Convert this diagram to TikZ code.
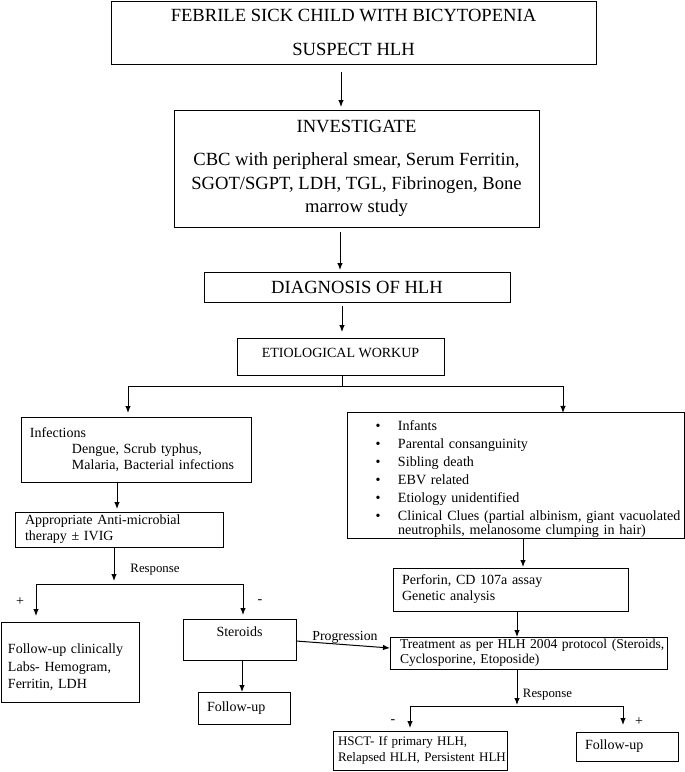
\documentclass[tikz,border=0pt]{standalone}
\usepackage{fontspec}
\setmainfont{Liberation Serif}
\usetikzlibrary{arrows.meta}
\newcommand\fsz[2]{\fontsize{#1}{#2}\selectfont}
\tikzset{
  box/.style={draw, line width=1pt, inner sep=0pt, outer sep=0pt},
  lbox/.style={box, align=left},
  arr/.style={line width=1pt, -{Latex[length=7pt,width=5.5pt]}},
  ln/.style={line width=1pt},
  lab/.style={inner sep=0pt}
}
\begin{document}
\begin{tikzpicture}[x=1pt,y=-1pt]
\useasboundingbox (0,0) rectangle (685,772);

% top chain
\node[box, minimum width=485pt, minimum height=63pt, align=center, font=\fsz{18.6}{34}] (top) at (353.5,32.5)
  {FEBRILE SICK CHILD WITH BICYTOPENIA\\SUSPECT HLH};
\node[box, minimum width=365pt, minimum height=117pt, align=center, font=\fsz{18.6}{23.5}] (inv) at (356.5,168.5)
  {INVESTIGATE\\[9.5pt]CBC with peripheral smear, Serum Ferritin,\\SGOT/SGPT, LDH, TGL, Fibrinogen, Bone\\marrow study};
\node[box, minimum width=306pt, minimum height=30pt, font=\fsz{18.6}{22}] (diag) at (357,287) {DIAGNOSIS OF HLH};
\node[box, minimum width=207pt, minimum height=37pt, text depth=7pt, font=\fsz{14}{16}] (etio) at (340.5,356.5) {ETIOLOGICAL WORKUP};

% left branch
\node[lbox, text width=212pt, inner xsep=9pt, minimum height=65pt, font=\fsz{14}{16}] (inf) at (136,449.5)
  {Infections\\\hspace*{42pt}Dengue, Scrub typhus,\\\hspace*{42pt}Malaria, Bacterial infections};
\node[lbox, text width=188pt, inner xsep=10pt, minimum height=35pt, font=\fsz{14}{16}] (amb) at (119,529.5)
  {Appropriate Anti-microbial\\therapy ± IVIG};
\node[lbox, text width=124pt, inner xsep=7pt, minimum height=80pt, font=\fsz{14}{17.5}] (fu1) at (70,662)
  {\rule{0pt}{20.5pt}Follow-up clinically\\Labs- Hemogram,\\Ferritin, LDH};
\node[box, minimum width=113pt, minimum height=41pt, text depth=15pt, font=\fsz{14}{16}] (ster) at (239.5,639.5) {Steroids};
\node[lbox, text width=74pt, inner xsep=9pt, minimum height=32pt, font=\fsz{14}{16}] (fu2) at (244,708) {Follow-up};

% right branch
\node[lbox, text width=333pt, inner xsep=2pt, minimum height=125pt, font=\fsz{14.1}{18}] (rbox) at (515.5,475.5)
  {\rule{0pt}{18pt}\hspace*{26.5pt}\makebox[22.5pt][l]{•}Infants\\
   \hspace*{26.5pt}\makebox[22.5pt][l]{•}Parental consanguinity\\
   \hspace*{26.5pt}\makebox[22.5pt][l]{•}Sibling death\\
   \hspace*{26.5pt}\makebox[22.5pt][l]{•}EBV related\\
   \hspace*{26.5pt}\makebox[22.5pt][l]{•}Etiology unidentified\\
   \hspace*{26.5pt}\makebox[22.5pt][l]{•}\mbox{Clinical Clues (partial albinism, giant vacuolated}\\[-4pt]
   \hspace*{49pt}\mbox{neutrophils, melanosome clumping in hair)}};
\node[lbox, text width=217pt, inner xsep=9pt, minimum height=43pt, font=\fsz{14}{16}] (perf) at (510.5,589.5)
  {Perforin, CD 107a assay\\Genetic analysis};
\node[lbox, text width=271pt, inner xsep=3pt, minimum height=32pt, font=\fsz{13.6}{15}] (treat) at (528.5,653)
  {\hspace*{7pt}\mbox{Treatment as per HLH 2004 protocol (Steroids,}\\\hspace*{7pt}Cyclosporine, Etoposide)};
\node[lbox, text width=168pt, inner xsep=3pt, minimum height=39pt, font=\fsz{13}{16}] (hsct) at (420,750.5)
  {\hspace*{2pt}HSCT- If primary HLH,\\\hspace*{2pt}\mbox{Relapsed HLH, Persistent HLH}};
\node[lbox, text width=84pt, inner xsep=9pt, minimum height=29pt, font=\fsz{14}{16}] (fu3) at (627,746.5) {Follow-up};

% labels
\node[lab, font=\fsz{12.8}{14}] (resp1) at (155,570) {Response};
\node[lab, font=\fsz{14}{16}] (plus1) at (20,602) {+};
\node[lab, font=\fsz{14}{16}] (minus1) at (260,602) {-};
\node[lab, font=\fsz{13.8}{16}] (prog) at (345,637) {Progression};
\node[lab, font=\fsz{12.8}{14}] (resp2) at (547.5,695) {Response};
\node[lab, font=\fsz{14}{16}] (minus2) at (393,722) {-};
\node[lab, font=\fsz{14}{16}] (plus2) at (639,722) {+};

% junction coordinates
\coordinate (j1) at (342,386);
\coordinate (jL) at (128,386);
\coordinate (jR) at (563,386);
\coordinate (r1) at (114,584);
\coordinate (r1L) at (36,584);
\coordinate (r1R) at (243,584);
\coordinate (r2) at (517,706);
\coordinate (r2L) at (410,706);
\coordinate (r2R) at (623,706);

% connectors
\draw[arr, shorten <=8pt, shorten >=3pt] (top.south -| 341,0) -- (inv.north -| 341,0);
\draw[arr, shorten <=5pt, shorten >=2pt] (inv.south -| 340,0) -- (diag.north -| 340,0);
\draw[arr, shorten <=4pt, shorten >=6pt] (diag.south -| 342,0) -- (etio.north -| 342,0);
\draw[ln] (etio.south -| j1) -- (j1);
\draw[ln] (jL) -- (jR);
\draw[arr, shorten >=4pt] (jL) -- (jL |- inf.north);
\draw[arr] (jR) -- (jR |- rbox.north);

\draw[arr, shorten >=3pt] (inf.south -| 117,0) -- (amb.north -| 117,0);
\draw[arr, shorten >=3pt] (amb.south -| r1) -- (r1);
\draw[ln] (r1L) -- (r1R);
\draw[arr, shorten >=6pt] (r1L) -- (r1L |- fu1.north);
\draw[arr, shorten >=4pt] (r1R) -- (r1R |- ster.north);
\draw[arr] (ster.south -| 242,0) -- (fu2.north -| 242,0);
\draw[arr] (ster.east |- 0,641) -- (treat.west |- 0,648);

\draw[arr, shorten >=1pt] (rbox.south -| 523,0) -- (perf.north -| 523,0);
\draw[arr] (perf.south -| 517,0) -- (treat.north -| 517,0);
\draw[arr, shorten >=1pt] (treat.south -| r2) -- (r2);
\draw[ln] (r2L) -- (r2R);
\draw[arr, shorten >=3pt] (r2L) -- (r2L |- hsct.north);
\draw[arr, shorten >=7pt] (r2R) -- (r2R |- fu3.north);
\end{tikzpicture}
\end{document}
